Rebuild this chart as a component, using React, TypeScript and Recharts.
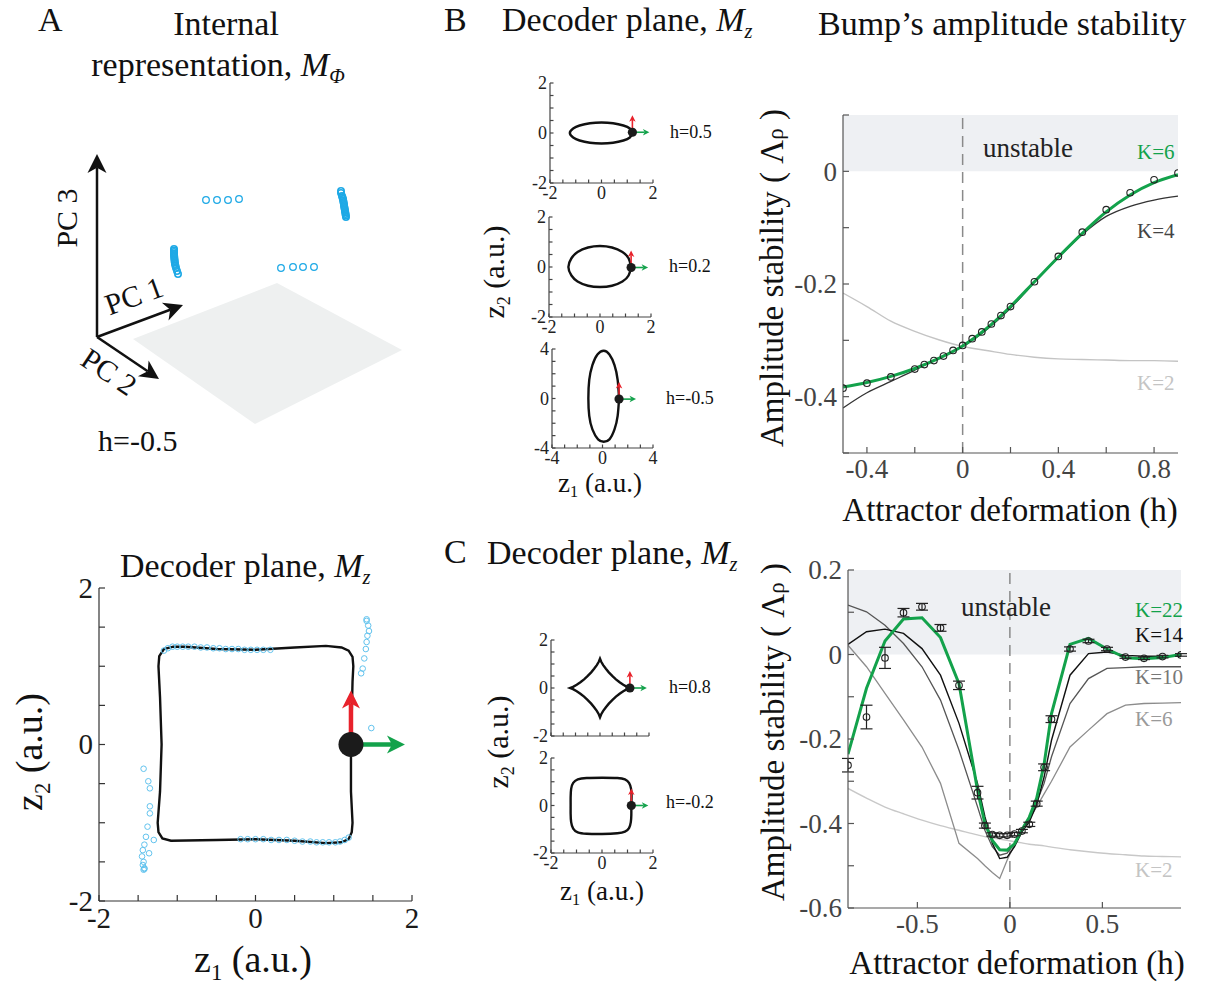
import React from "react";
import {
  ComposedChart,
  Line,
  Scatter,
  XAxis,
  YAxis,
  ReferenceArea,
  ReferenceLine,
  ErrorBar,
} from "recharts";

const FONT = '"Liberation Serif", "Times New Roman", serif';
const GREEN = "#13a24b";
const RED = "#e8222b";
const BLUE = "#1ea9e6";
const LIGHT_BLUE = "#62c3ee";
const SHADE = "#eef0f3";

// ---------- B, right: amplitude stability, K=6 network ----------
const hB = [-0.5, -0.4, -0.3, -0.2, -0.1, 0, 0.1, 0.2, 0.3, 0.4, 0.5, 0.6, 0.7, 0.8, 0.9];
const stabBK6 = [-0.383, -0.375, -0.364, -0.35, -0.332, -0.31, -0.279, -0.24, -0.196, -0.152, -0.11, -0.072, -0.042, -0.02, -0.006];
const stabBK4 = [-0.42, -0.393, -0.373, -0.353, -0.331, -0.311, -0.281, -0.243, -0.197, -0.153, -0.112, -0.08, -0.062, -0.051, -0.044];
const stabBK2 = [-0.216, -0.24, -0.266, -0.284, -0.299, -0.311, -0.318, -0.325, -0.33, -0.333, -0.334, -0.335, -0.336, -0.336, -0.337];
const hBSim = [-0.5, -0.4, -0.3, -0.2, -0.16, -0.12, -0.08, -0.04, 0, 0.04, 0.08, 0.12, 0.16, 0.2, 0.3, 0.4, 0.5, 0.6, 0.7, 0.8, 0.9];
const stabBSim = [-0.385, -0.376, -0.365, -0.351, -0.343, -0.336, -0.328, -0.318, -0.309, -0.297, -0.285, -0.271, -0.256, -0.24, -0.196, -0.151, -0.108, -0.068, -0.038, -0.015, -0.003];

// ---------- C, right: amplitude stability, K=22 network ----------
const hC = [-0.875, -0.775, -0.675, -0.575, -0.475, -0.375, -0.275, -0.175, -0.135, -0.095, -0.055, -0.015, 0.025, 0.065, 0.105, 0.145, 0.185, 0.225, 0.325, 0.425, 0.525, 0.625, 0.725, 0.825, 0.925];
const stabCSim = [-0.262, -0.148, -0.008, 0.099, 0.113, 0.063, -0.073, -0.327, -0.405, -0.426, -0.428, -0.428, -0.425, -0.418, -0.402, -0.353, -0.267, -0.153, 0.013, 0.032, 0.013, -0.006, -0.009, -0.005, -0.001];
const errCSim = [0.016, 0.028, 0.025, 0.01, 0.008, 0.008, 0.01, 0.015, 0.006, 0.004, 0.004, 0.004, 0.004, 0.004, 0.005, 0.006, 0.008, 0.008, 0.005, 0.004, 0.004, 0.003, 0.003, 0.003, 0.003];
const stabCK22 = [-0.236, -0.08, 0.032, 0.084, 0.087, 0.04, -0.069, -0.321, -0.4, -0.44, -0.462, -0.463, -0.448, -0.415, -0.385, -0.34, -0.26, -0.14, 0.024, 0.038, 0.013, -0.008, -0.01, -0.007, 0];
const stabCK14 = [0.024, 0.054, 0.06, 0.05, 0.014, -0.049, -0.163, -0.305, -0.384, -0.447, -0.483, -0.48, -0.455, -0.42, -0.396, -0.355, -0.29, -0.203, -0.049, 0.002, 0.006, -0.002, -0.004, -0.004, -0.004];
const stabCK10 = [0.117, 0.101, 0.069, 0.026, -0.029, -0.108, -0.226, -0.36, -0.416, -0.455, -0.475, -0.47, -0.447, -0.42, -0.392, -0.35, -0.305, -0.242, -0.116, -0.057, -0.033, -0.031, -0.029, -0.029, -0.029];
const stabCK6 = [0.022, -0.029, -0.092, -0.155, -0.219, -0.305, -0.447, -0.483, -0.5, -0.516, -0.53, -0.487, -0.45, -0.415, -0.39, -0.36, -0.33, -0.3, -0.219, -0.179, -0.14, -0.12, -0.116, -0.115, -0.114];
const stabCK2 = [-0.317, -0.34, -0.361, -0.377, -0.392, -0.405, -0.416, -0.427, -0.431, -0.434, -0.437, -0.44, -0.443, -0.446, -0.449, -0.451, -0.453, -0.456, -0.462, -0.467, -0.471, -0.474, -0.477, -0.478, -0.479];

// ---------- decoder plane rings (z1, z2) ----------
const ringB05: [number, number][] = [[1.22, 0], [1.1, 0.18], [0.85, 0.3], [0.45, 0.39], [0, 0.42], [-0.45, 0.39], [-0.85, 0.3], [-1.1, 0.18], [-1.23, 0], [-1.1, -0.18], [-0.85, -0.3], [-0.45, -0.39], [0, -0.42], [0.45, -0.39], [0.85, -0.3], [1.1, -0.18], [1.22, 0]];
const ringB02: [number, number][] = [[1.22, 0], [1.12, 0.35], [0.88, 0.6], [0.47, 0.78], [0, 0.84], [-0.47, 0.78], [-0.88, 0.6], [-1.12, 0.35], [-1.24, 0], [-1.12, -0.34], [-0.88, -0.58], [-0.47, -0.75], [0, -0.8], [0.47, -0.75], [0.88, -0.58], [1.12, -0.34], [1.22, 0]];
const ringBm05: [number, number][] = [[1.31, 0], [1.2, 1.5], [0.95, 2.7], [0.55, 3.55], [0.1, 3.86], [-0.4, 3.55], [-0.8, 2.7], [-1.05, 1.5], [-1.12, 0], [-1.05, -1.4], [-0.8, -2.5], [-0.35, -3.3], [0.1, -3.5], [0.55, -3.3], [0.95, -2.5], [1.2, -1.4], [1.31, 0]];
const ringC08: [number, number][] = [[1.22, 0], [1.1, 0.046], [0.95, 0.133], [0.8, 0.239], [0.65, 0.362], [0.5, 0.503], [0.36, 0.653], [0.24, 0.8], [0.13, 0.954], [0.05, 1.092], [0, 1.22], [-0.05, 1.092], [-0.13, 0.954], [-0.24, 0.8], [-0.36, 0.653], [-0.5, 0.503], [-0.65, 0.362], [-0.8, 0.239], [-0.95, 0.133], [-1.1, 0.046], [-1.22, 0], [-1.1, -0.046], [-0.95, -0.133], [-0.8, -0.239], [-0.65, -0.362], [-0.5, -0.503], [-0.36, -0.653], [-0.24, -0.8], [-0.13, -0.954], [-0.05, -1.092], [0, -1.22], [0.05, -1.092], [0.13, -0.954], [0.24, -0.8], [0.36, -0.653], [0.5, -0.503], [0.65, -0.362], [0.8, -0.239], [0.95, -0.133], [1.1, -0.046], [1.22, 0]];
const ringCm02: [number, number][] = [[1.15, 0], [1.16, 0.4], [1.14, 0.7], [1.06, 0.95], [0.9, 1.1], [0.6, 1.16], [0, 1.17], [-0.6, 1.16], [-0.95, 1.1], [-1.13, 0.95], [-1.21, 0.7], [-1.23, 0.35], [-1.23, 0], [-1.23, -0.35], [-1.21, -0.7], [-1.13, -0.97], [-0.95, -1.13], [-0.6, -1.19], [0, -1.2], [0.6, -1.17], [0.9, -1.1], [1.06, -0.95], [1.13, -0.7], [1.15, -0.4], [1.15, 0]];
const ringA: [number, number][] = [[1.22, 0], [1.23, 0.4], [1.24, 0.8], [1.25, 1.0], [1.24, 1.12], [1.19, 1.2], [1.1, 1.24], [0.9, 1.26], [0.5, 1.24], [0, 1.21], [-0.5, 1.22], [-0.9, 1.25], [-1.05, 1.25], [-1.17, 1.22], [-1.23, 1.13], [-1.24, 1.0], [-1.22, 0.6], [-1.2, 0], [-1.22, -0.6], [-1.25, -1.0], [-1.24, -1.12], [-1.19, -1.2], [-1.08, -1.23], [-0.5, -1.22], [0, -1.21], [0.5, -1.23], [0.9, -1.26], [1.1, -1.25], [1.19, -1.21], [1.23, -1.12], [1.24, -1.0], [1.22, -0.6], [1.22, 0]];

// network activity projected on the decoder plane (h=-0.5)
const projLeft: [number, number][] = [[-1.43, -0.31], [-1.37, -0.47], [-1.35, -0.56], [-1.35, -0.79], [-1.35, -0.88], [-1.38, -1.05], [-1.4, -1.18], [-1.3, -1.22], [-1.42, -1.28], [-1.44, -1.35], [-1.36, -1.39], [-1.45, -1.43], [-1.43, -1.5], [-1.44, -1.54], [-1.42, -1.58], [-1.42, -1.59], [-1.43, -1.6]];
const projRight: [number, number][] = [[1.42, 1.6], [1.42, 1.58], [1.44, 1.52], [1.45, 1.45], [1.43, 1.39], [1.42, 1.31], [1.41, 1.22], [1.39, 1.1], [1.37, 0.97], [1.35, 0.91], [1.48, 0.21]];
const projTop: [number, number][] = [[-1.17, 1.2], [-1.12, 1.23], [-1.06, 1.25], [-1.0, 1.25], [-0.93, 1.25], [-0.86, 1.25], [-0.78, 1.25], [-0.7, 1.24], [-0.62, 1.24], [-0.54, 1.23], [-0.46, 1.23], [-0.38, 1.22], [-0.3, 1.22], [-0.22, 1.22], [-0.14, 1.21], [-0.06, 1.21], [0.02, 1.21], [0.1, 1.21], [0.19, 1.21]];
const projBottom: [number, number][] = [[-0.19, -1.21], [-0.1, -1.21], [0, -1.21], [0.1, -1.21], [0.2, -1.22], [0.3, -1.22], [0.4, -1.22], [0.5, -1.23], [0.6, -1.24], [0.7, -1.24], [0.78, -1.25], [0.86, -1.25], [0.94, -1.25], [1.02, -1.25], [1.08, -1.24], [1.14, -1.22], [1.19, -1.19]];

// bump position on each ring
const bumpA: [number, number] = [1.22, 0];
const bumpB05: [number, number] = [1.2, 0.03];
const bumpB02: [number, number] = [1.22, -0.02];
const bumpBm05: [number, number] = [1.31, -0.05];
const bumpC08: [number, number] = [1.22, 0];
const bumpCm02: [number, number] = [1.15, 0];

// ---------- A: internal representation (projected PC coords) ----------
const pcRowFar: [number, number][] = [[146, 240], [157, 240], [168, 240], [179, 241]];
const pcRowNear: [number, number][] = [[221, 172], [233, 173], [243, 173], [254, 173]];
const pcColLeft: [number, number][] = [[114, 191], [114, 189.5], [114, 188], [114, 186.5], [114, 185], [114.2, 183.5], [114.3, 182], [114.5, 180.5], [114.6, 179], [114.8, 177.5], [115, 176], [115.5, 174], [116, 172], [117, 169], [118, 166]];
const pcColRight: [number, number][] = [[281, 249], [281, 247], [282, 244], [282.5, 242.5], [283, 241], [283.2, 239.5], [283.5, 238], [283.8, 236.5], [284, 235], [284.2, 233.5], [284.5, 232], [284.8, 230.5], [285, 229], [285.3, 227.5], [285.5, 226], [285.8, 224.5], [286, 223]];

const series = (xs: number[], ys: number[]) => xs.map((x, i) => ({ x, y: ys[i] }));
const pts = (arr: [number, number][]) => arr.map(([x, y]) => ({ x, y }));
const errSeries = (xs: number[], ys: number[], es: number[]) => xs.map((x, i) => ({ x, y: ys[i], e: es[i] }));

const isIn = (labs: number[], v: number) => labs.some((l) => Math.abs(l - v) < 1e-9);

const makeTick = (labs: number[], side: "x" | "y", fs: number, color: string) => (props: any) => {
  const v = props.payload?.value;
  if (!isIn(labs, v)) return <g />;
  return (
    <text
      x={props.x}
      y={props.y}
      dy={side === "x" ? fs * 0.72 : fs * 0.34}
      textAnchor={side === "x" ? "middle" : "end"}
      fontSize={fs}
      fontFamily={FONT}
      style={{ fontFamily: FONT }}
      fill={color}
    >
      {String(v)}
    </text>
  );
};

const PAD_L = 72;
const PAD_B = 48;
const PAD_T = 20;
const PAD_R = 20;

type PlotProps = {
  left: number;
  top: number;
  width: number;
  height: number;
  xDomain: [number, number];
  yDomain: [number, number];
  xTicks: number[];
  yTicks: number[];
  xLabeled: number[];
  yLabeled: number[];
  fontSize: number;
  tickLen: number;
  gap?: number;
  axisColor?: string;
  textColor?: string;
  children?: React.ReactNode;
};

function Plot(p: PlotProps) {
  const gap = p.gap ?? 5;
  const axisColor = p.axisColor ?? "#555";
  const textColor = p.textColor ?? "#333";
  return (
    <div style={{ position: "absolute", left: p.left - PAD_L, top: p.top - PAD_T, fontFamily: FONT }}>
      <ComposedChart
        width={PAD_L + p.width + PAD_R}
        height={PAD_T + p.height + PAD_B}
        margin={{ top: PAD_T, right: PAD_R, bottom: 0, left: 0 }}
        style={{ fontFamily: FONT }}
      >
        <XAxis
          type="number"
          dataKey="x"
          domain={p.xDomain}
          ticks={p.xTicks}
          interval={0}
          allowDataOverflow
          height={PAD_B}
          tickSize={-p.tickLen}
          tickMargin={p.tickLen + gap}
          stroke={axisColor}
          strokeWidth={1.2}
          tick={makeTick(p.xLabeled, "x", p.fontSize, textColor)}
        />
        <YAxis
          type="number"
          dataKey="y"
          domain={p.yDomain}
          ticks={p.yTicks}
          interval={0}
          allowDataOverflow
          width={PAD_L}
          tickSize={-p.tickLen}
          tickMargin={p.tickLen + gap}
          stroke={axisColor}
          strokeWidth={1.2}
          tick={makeTick(p.yLabeled, "y", p.fontSize, textColor)}
        />
        {p.children}
      </ComposedChart>
    </div>
  );
}

function Arrow({ x, y, dx, dy, color, sw, head }: { x: number; y: number; dx: number; dy: number; color: string; sw: number; head: number }) {
  const L = Math.hypot(dx, dy);
  const ux = dx / L;
  const uy = dy / L;
  const tx = x + dx;
  const ty = y + dy;
  const bx = tx - ux * head;
  const by = ty - uy * head;
  const hw = head * 0.5;
  const nx = tx - ux * head * 0.72;
  const ny = ty - uy * head * 0.72;
  const poly = `${tx},${ty} ${bx - uy * hw},${by + ux * hw} ${nx},${ny} ${bx + uy * hw},${by - ux * hw}`;
  return (
    <g>
      <line x1={x} y1={y} x2={nx} y2={ny} stroke={color} strokeWidth={sw} />
      <polygon points={poly} fill={color} />
    </g>
  );
}

const bumpMarker = (r: number, len: number, sw: number, head: number) => (p: any) => (
  <g>
    <Arrow x={p.cx} y={p.cy} dx={0} dy={-len} color={RED} sw={sw} head={head} />
    <Arrow x={p.cx} y={p.cy} dx={len} dy={0} color={GREEN} sw={sw} head={head} />
    <circle cx={p.cx} cy={p.cy} r={r} fill="#1b1b1b" />
  </g>
);

const openCircle = (r: number, color: string, sw = 1) => (p: any) => (
  <circle cx={p.cx} cy={p.cy} r={r} fill="none" stroke={color} strokeWidth={sw} />
);

function Label({
  x,
  y,
  size,
  color = "#111",
  rotate = 0,
  align = "center",
  children,
}: {
  x: number;
  y: number;
  size: number;
  color?: string;
  rotate?: number;
  align?: "center" | "left";
  children: React.ReactNode;
}) {
  const tx = align === "center" ? "-50%" : "0";
  return (
    <div
      style={{
        position: "absolute",
        left: x,
        top: y,
        transform: `translate(${tx}, -50%) rotate(${rotate}deg)`,
        transformOrigin: align === "center" ? "center" : "left center",
        fontSize: size,
        color,
        whiteSpace: "nowrap",
        lineHeight: 1,
        fontFamily: FONT,
      }}
    >
      {children}
    </div>
  );
}

const Sub = ({ children, italic }: { children: React.ReactNode; italic?: boolean }) => (
  <span style={{ fontSize: "0.6em", verticalAlign: "-0.35em", fontStyle: italic ? "italic" : "normal" }}>{children}</span>
);

const Mz = () => (
  <>
    <i>M</i>
    <Sub italic>z</Sub>
  </>
);

const ticksHalf2 = [-2, -1.5, -1, -0.5, 0, 0.5, 1, 1.5, 2];
const ticks4 = [-4, -3, -2, -1, 0, 1, 2, 3, 4];

function SmallPlot({
  left,
  top,
  width,
  height,
  range,
  ring,
  bump,
  type,
  xLabels = true,
}: {
  left: number;
  top: number;
  width: number;
  height: number;
  range: number;
  ring: [number, number][];
  bump: [number, number];
  type: "linear" | "natural";
  xLabels?: boolean;
}) {
  const ticks = range === 4 ? ticks4 : ticksHalf2;
  const labs = [-range, 0, range];
  return (
    <Plot
      left={left}
      top={top}
      width={width}
      height={height}
      xDomain={[-range, range]}
      yDomain={[-range, range]}
      xTicks={ticks}
      yTicks={ticks}
      xLabeled={xLabels ? labs : []}
      yLabeled={labs}
      fontSize={18}
      tickLen={3.5}
      gap={3}
      axisColor="#444"
      textColor="#222"
    >
      <Line data={pts(ring)} dataKey="y" type={type} stroke="#111" strokeWidth={2.4} dot={false} activeDot={false} isAnimationActive={false} />
      <Scatter data={pts([bump])} shape={bumpMarker(4.6, 17, 1.6, 6.5)} isAnimationActive={false} />
    </Plot>
  );
}

export default function App() {
  return (
    <div
      style={{
        position: "absolute",
        left: 0,
        top: 0,
        width: 1215,
        height: 991,
        background: "#fff",
        fontFamily: FONT,
        overflow: "hidden",
      }}
    >
      {/* ---------- Panel A, top: PCA view ---------- */}
      <svg width={440} height={470} style={{ position: "absolute", left: 0, top: 0 }}>
        <polygon points="133,339 277,283 402,350 255,424" fill="#eef0f0" />
        <Arrow x={97} y={337} dx={0} dy={-183} color="#111" sw={2.5} head={19} />
        <Arrow x={97} y={337} dx={86} dy={-32} color="#111" sw={2.5} head={19} />
        <Arrow x={97} y={337} dx={62} dy={42} color="#111" sw={2.5} head={19} />
      </svg>
      <div style={{ position: "absolute", left: 60, top: 140 }}>
        <ComposedChart width={360} height={300} margin={{ top: 0, right: 0, bottom: 0, left: 0 }}>
          <XAxis type="number" dataKey="x" domain={[0, 360]} hide allowDataOverflow />
          <YAxis type="number" dataKey="y" domain={[0, 300]} hide allowDataOverflow />
          <Scatter data={pts(pcRowFar)} shape={openCircle(3.3, BLUE, 1.3)} isAnimationActive={false} />
          <Scatter data={pts(pcRowNear)} shape={openCircle(3.3, BLUE, 1.3)} isAnimationActive={false} />
          <Scatter data={pts(pcColLeft)} shape={openCircle(3.2, BLUE, 1.6)} isAnimationActive={false} />
          <Scatter data={pts(pcColRight)} shape={openCircle(3.2, BLUE, 1.6)} isAnimationActive={false} />
        </ComposedChart>
      </div>

      <Label x={38} y={20} size={34} align="left">A</Label>
      <Label x={226} y={24} size={34}>Internal</Label>
      <Label x={218} y={67} size={34}>
        representation, <i>M</i>
        <Sub italic>Φ</Sub>
      </Label>
      <Label x={67} y={218} size={30} rotate={-90}>PC 3</Label>
      <Label x={134} y={296} size={30} rotate={-20}>PC 1</Label>
      <Label x={109} y={372} size={30} rotate={34}>PC 2</Label>
      <Label x={98} y={441} size={30} align="left">h=-0.5</Label>

      {/* ---------- Panel A, bottom: decoder plane ---------- */}
      <Plot
        left={99}
        top={588}
        width={313}
        height={313}
        xDomain={[-2, 2]}
        yDomain={[-2, 2]}
        xTicks={ticksHalf2}
        yTicks={ticksHalf2}
        xLabeled={[-2, 0, 2]}
        yLabeled={[-2, 0, 2]}
        fontSize={29}
        tickLen={6}
        gap={6}
        axisColor="#333"
        textColor="#1a1a1a"
      >
        <Line data={pts(ringA)} dataKey="y" type="linear" stroke="#111" strokeWidth={2.4} dot={false} activeDot={false} isAnimationActive={false} />
        <Scatter data={pts(projTop)} shape={openCircle(2.8, LIGHT_BLUE)} isAnimationActive={false} />
        <Scatter data={pts(projBottom)} shape={openCircle(2.8, LIGHT_BLUE)} isAnimationActive={false} />
        <Scatter data={pts(projLeft)} shape={openCircle(2.8, LIGHT_BLUE)} isAnimationActive={false} />
        <Scatter data={pts(projRight)} shape={openCircle(2.8, LIGHT_BLUE)} isAnimationActive={false} />
        <Scatter data={pts([bumpA])} shape={bumpMarker(12.5, 54, 4.5, 18)} isAnimationActive={false} />
      </Plot>
      <Label x={120} y={568} size={34} align="left">
        Decoder plane, <Mz />
      </Label>
      <Label x={32} y={752} size={38} rotate={-90}>
        z<Sub>2</Sub> (a.u.)
      </Label>
      <Label x={253} y={962} size={38}>
        z<Sub>1</Sub> (a.u.)
      </Label>

      {/* ---------- Panel B, small decoder planes ---------- */}
      <Label x={444} y={20} size={34} align="left">B</Label>
      <Label x={502} y={22} size={34} align="left">
        Decoder plane, <Mz />
      </Label>
      <SmallPlot left={550} top={83} width={103} height={100} range={2} ring={ringB05} bump={bumpB05} type="natural" />
      <SmallPlot left={549} top={217} width={102} height={100} range={2} ring={ringB02} bump={bumpB02} type="natural" />
      <SmallPlot left={552} top={349} width={101} height={99} range={4} ring={ringBm05} bump={bumpBm05} type="natural" />
      <Label x={670} y={132} size={18} align="left">h=0.5</Label>
      <Label x={669} y={266} size={18} align="left">h=0.2</Label>
      <Label x={666} y={398} size={18} align="left">h=-0.5</Label>
      <Label x={496} y={272} size={30} rotate={-90}>
        z<Sub>2</Sub> (a.u.)
      </Label>
      <Label x={600} y={485} size={27}>
        z<Sub>1</Sub> (a.u.)
      </Label>

      {/* ---------- Panel B, right: stability ---------- */}
      <Label x={818} y={24} size={34} align="left">Bump’s amplitude stability</Label>
      <Plot
        left={843}
        top={115}
        width={335}
        height={338}
        xDomain={[-0.5, 0.9]}
        yDomain={[-0.5, 0.1]}
        xTicks={[-0.4, -0.2, 0, 0.2, 0.4, 0.6, 0.8]}
        yTicks={[-0.5, -0.4, -0.3, -0.2, -0.1, 0, 0.1]}
        xLabeled={[-0.4, 0, 0.4, 0.8]}
        yLabeled={[-0.4, -0.2, 0]}
        fontSize={27}
        tickLen={6}
        gap={6}
        axisColor="#555"
        textColor="#444"
      >
        <ReferenceArea y1={0} y2={0.1} fill={SHADE} fillOpacity={1} stroke="none" />
        <ReferenceLine x={0} stroke="#8a8a8a" strokeWidth={1.5} strokeDasharray="11 7" />
        <Line data={series(hB, stabBK2)} dataKey="y" type="monotone" stroke="#c4c4c4" strokeWidth={1.4} dot={false} activeDot={false} isAnimationActive={false} />
        <Line data={series(hB, stabBK4)} dataKey="y" type="monotone" stroke="#333" strokeWidth={1.3} dot={false} activeDot={false} isAnimationActive={false} />
        <Line data={series(hB, stabBK6)} dataKey="y" type="monotone" stroke={GREEN} strokeWidth={3} dot={false} activeDot={false} isAnimationActive={false} />
        <Scatter data={series(hBSim, stabBSim)} shape={openCircle(3.3, "#222", 1.1)} isAnimationActive={false} />
      </Plot>
      <Label x={772} y={278} size={33} rotate={-90}>
        Amplitude stability ( Λ<span style={{ fontSize: "0.7em" }}>ρ</span> )
      </Label>
      <Label x={1010} y={510} size={33}>Attractor deformation (h)</Label>
      <Label x={1028} y={148} size={27} color="#222">unstable</Label>
      <Label x={1137} y={152} size={21} color={GREEN} align="left">K=6</Label>
      <Label x={1137} y={231} size={21} color="#444" align="left">K=4</Label>
      <Label x={1137} y={383} size={21} color="#c4c4c4" align="left">K=2</Label>

      {/* ---------- Panel C, small decoder planes ---------- */}
      <Label x={444} y={552} size={34} align="left">C</Label>
      <Label x={487} y={555} size={34} align="left">
        Decoder plane, <Mz />
      </Label>
      <SmallPlot left={551} top={640} width={98} height={96} range={2} ring={ringC08} bump={bumpC08} type="linear" xLabels={false} />
      <SmallPlot left={551} top={758} width={102} height={95} range={2} ring={ringCm02} bump={bumpCm02} type="natural" />
      <Label x={669} y={687} size={18} align="left">h=0.8</Label>
      <Label x={666} y={802} size={18} align="left">h=-0.2</Label>
      <Label x={500} y={742} size={30} rotate={-90}>
        z<Sub>2</Sub> (a.u.)
      </Label>
      <Label x={602} y={893} size={27}>
        z<Sub>1</Sub> (a.u.)
      </Label>

      {/* ---------- Panel C, right: stability ---------- */}
      <Plot
        left={848}
        top={570}
        width={333}
        height={338}
        xDomain={[-0.875, 0.925]}
        yDomain={[-0.6, 0.2]}
        xTicks={[-0.5, 0, 0.5]}
        yTicks={[-0.6, -0.5, -0.4, -0.3, -0.2, -0.1, 0, 0.1, 0.2]}
        xLabeled={[-0.5, 0, 0.5]}
        yLabeled={[-0.6, -0.4, -0.2, 0, 0.2]}
        fontSize={27}
        tickLen={6}
        gap={6}
        axisColor="#555"
        textColor="#444"
      >
        <ReferenceArea y1={0} y2={0.2} fill={SHADE} fillOpacity={1} stroke="none" />
        <ReferenceLine x={0} stroke="#8a8a8a" strokeWidth={1.5} strokeDasharray="11 7" />
        <Line data={series(hC, stabCK2)} dataKey="y" type="monotone" stroke="#c8c8c8" strokeWidth={1.4} dot={false} activeDot={false} isAnimationActive={false} />
        <Line data={series(hC, stabCK6)} dataKey="y" type="linear" stroke="#8c8c8c" strokeWidth={1.3} dot={false} activeDot={false} isAnimationActive={false} />
        <Line data={series(hC, stabCK10)} dataKey="y" type="linear" stroke="#555" strokeWidth={1.3} dot={false} activeDot={false} isAnimationActive={false} />
        <Line data={series(hC, stabCK14)} dataKey="y" type="linear" stroke="#111" strokeWidth={1.4} dot={false} activeDot={false} isAnimationActive={false} />
        <Line data={series(hC, stabCK22)} dataKey="y" type="linear" stroke={GREEN} strokeWidth={3} dot={false} activeDot={false} isAnimationActive={false} />
        <Scatter data={errSeries(hC, stabCSim, errCSim)} shape={openCircle(3.3, "#222", 1.1)} isAnimationActive={false}>
          <ErrorBar dataKey="e" direction="y" width={6} stroke="#222" strokeWidth={1.2} />
        </Scatter>
      </Plot>
      <Label x={773} y={732} size={33} rotate={-90}>
        Amplitude stability ( Λ<span style={{ fontSize: "0.7em" }}>ρ</span> )
      </Label>
      <Label x={1017} y={963} size={33}>Attractor deformation (h)</Label>
      <Label x={1006} y={607} size={27} color="#222">unstable</Label>
      <Label x={1135} y={610} size={21} color={GREEN} align="left">K=22</Label>
      <Label x={1135} y={635} size={21} color="#111" align="left">K=14</Label>
      <Label x={1135} y={677} size={21} color="#777" align="left">K=10</Label>
      <Label x={1135} y={719} size={21} color="#9a9a9a" align="left">K=6</Label>
      <Label x={1135} y={870} size={21} color="#c4c4c4" align="left">K=2</Label>
    </div>
  );
}
